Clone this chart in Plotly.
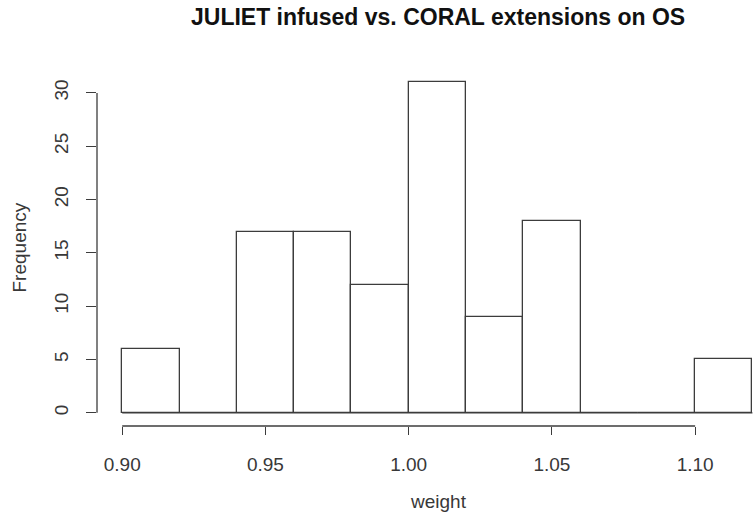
import numpy as np
import plotly.graph_objects as go

# Histogram of weight: bin edges and counts per bin
breaks = [0.90, 0.92, 0.94, 0.96, 0.98, 1.00, 1.02, 1.04, 1.06, 1.08, 1.10, 1.12]
counts = [6, 0, 17, 17, 12, 31, 9, 18, 0, 0, 5]

x_ticks = [0.90, 0.95, 1.00, 1.05, 1.10]
x_tick_labels = ["0.90", "0.95", "1.00", "1.05", "1.10"]
y_ticks = [0, 5, 10, 15, 20, 25, 30]
y_tick_labels = ["0", "5", "10", "15", "20", "25", "30"]

title_text = "JULIET infused vs. CORAL extensions on OS"
x_label = "weight"
y_label = "Frequency"

FONT = "Liberation Sans, Arial, sans-serif"
INK = "#383838"
LINE = "#3c3c3c"
FS = 19

edges = np.array(breaks)
centers = (edges[:-1] + edges[1:]) / 2
widths = np.diff(edges)

# R-style axis ranges (4% padding on the data range)
x_lo = edges[0] - 0.04 * (edges[-1] - edges[0])
x_hi = edges[-1] + 0.0002
y_span = max(counts)
y_lo = -0.04 * y_span
y_hi = y_span * 1.04

fig = go.Figure()
fig.add_trace(go.Bar(
    x=centers, y=counts, width=widths,
    marker=dict(color="white", line=dict(color=LINE, width=1.3)),
    hoverinfo="x+y", showlegend=False,
))

# baseline under empty bins (outline of zero-height rectangles)
fig.add_shape(type="line", xref="x", yref="y",
              x0=edges[0], x1=edges[-1], y0=0, y1=0,
              line=dict(color=LINE, width=1.3))

# axis lines spanning only the tick range
fig.add_shape(type="line", xref="x", yref="paper",
              x0=x_ticks[0], x1=x_ticks[-1], y0=0, y1=0,
              line=dict(color=LINE, width=1.3))
fig.add_shape(type="line", xref="paper", yref="y",
              x0=0, x1=0, y0=y_ticks[0], y1=y_ticks[-1],
              line=dict(color=LINE, width=1.3))

fig.update_layout(
    width=753, height=523,
    margin=dict(l=97, r=0, t=69, b=97),
    paper_bgcolor="white", plot_bgcolor="white",
    bargap=0,
    font=dict(family=FONT, size=FS, color=INK),
    xaxis=dict(
        range=[x_lo, x_hi], showgrid=False, zeroline=False, showline=False,
        tickmode="array", tickvals=x_ticks, ticktext=x_tick_labels,
        ticks="outside", ticklen=8, tickwidth=1.3, tickcolor=LINE,
        ticklabelstandoff=13,
        tickfont=dict(family=FONT, size=FS, color=INK),
    ),
    yaxis=dict(
        range=[y_lo, y_hi], showgrid=False, zeroline=False, showline=False,
        tickmode="array", tickvals=y_ticks, ticktext=y_tick_labels,
        ticks="outside", ticklen=10, tickwidth=1.3, tickcolor=LINE,
        tickangle=-90, ticklabelstandoff=10,
        tickfont=dict(family=FONT, size=FS, color=INK),
    ),
    annotations=[
        dict(text="<b>" + title_text + "</b>", xref="paper", yref="paper",
             x=(438 - 97) / 656, y=1, yshift=52, xanchor="center", yanchor="middle",
             showarrow=False, font=dict(family=FONT, size=23, color="#111111")),
        dict(text=x_label, xref="paper", yref="paper",
             x=(438 - 97) / 656, y=0, yshift=-75, xanchor="center", yanchor="middle",
             showarrow=False, font=dict(family=FONT, size=FS, color=INK)),
        dict(text=y_label, xref="paper", yref="paper",
             x=0, xshift=-78, y=0.5, xanchor="center", yanchor="middle", textangle=-90,
             showarrow=False, font=dict(family=FONT, size=FS, color=INK)),
    ],
)

fig.write_html("out.html")
